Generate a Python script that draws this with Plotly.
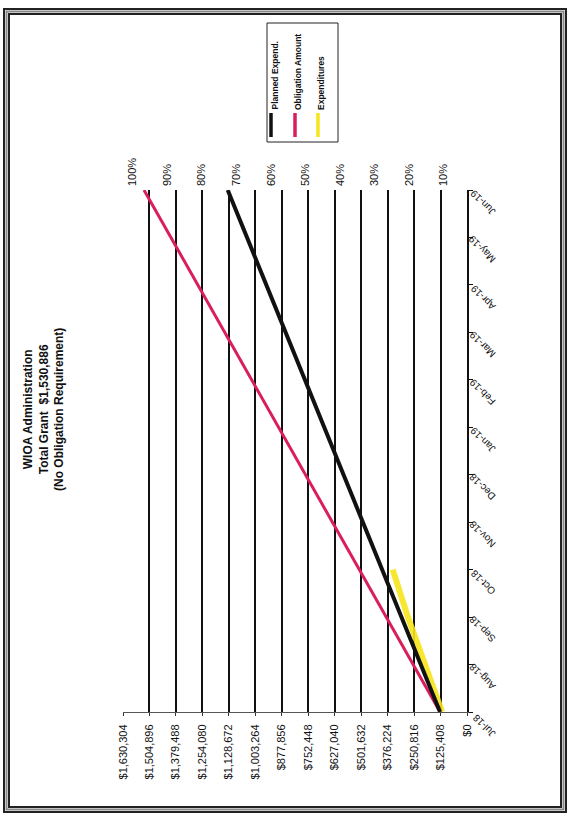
import plotly.graph_objects as go

# ---- data -------------------------------------------------------------
months = ["Jul-18", "Aug-18", "Sep-18", "Oct-18", "Nov-18", "Dec-18",
          "Jan-19", "Feb-19", "Mar-19", "Apr-19", "May-19", "Jun-19"]

planned_expend = [127600, 219100, 310600, 402100, 493600, 585100,
                  676600, 768100, 859600, 951100, 1042600, 1134100]

obligation_amount = [127574, 255148, 382722, 510295, 637869, 765443,
                     893017, 1020591, 1148165, 1275738, 1403312, 1530886]

expenditures = [118000, 200000, 280000, 352000]

dollar_ticks = [0, 125408, 250816, 376224, 501632, 627040, 752448,
                877856, 1003264, 1128672, 1254080, 1379488, 1504896, 1630304]

pct_ticks = [10, 20, 30, 40, 50, 60, 70, 80, 90, 100]

series_names = ["Planned Expend.", "Obligation Amount", "Expenditures"]
series_colors = ["#111111", "#D81E5B", "#F7E51B"]

title_lines = ["WIOA Administration",
               "Total Grant\u00a0\u00a0$1,530,886",
               "(No Obligation Requirement)"]

# ---- geometry ---------------------------------------------------------
W, H = 571, 825
ML, MR, MT, MB = 123, 104, 190, 113
PW, PH = W - ML - MR, H - MT - MB


def px(x):
    return (x - ML) / PW


def py(y):
    return (H - MB - y) / PH


FONT = "Liberation Sans, Arial, sans-serif"

fig = go.Figure()

# Expenditures drawn first so the planned line sits on top of it
fig.add_trace(go.Scatter(
    x=expenditures, y=months[:len(expenditures)], mode="lines",
    line=dict(color=series_colors[2], width=6), name=series_names[2],
    opacity=0.9))
fig.add_trace(go.Scatter(
    x=obligation_amount, y=months, mode="lines",
    line=dict(color=series_colors[1], width=3), name=series_names[1]))
fig.add_trace(go.Scatter(
    x=planned_expend, y=months, mode="lines",
    line=dict(color=series_colors[0], width=4), name=series_names[0]))

# carrier trace for the percentage scale along the top
fig.add_trace(go.Scatter(
    x=pct_ticks, y=[months[0]] * len(pct_ticks), xaxis="x2", mode="markers",
    marker=dict(opacity=0), hoverinfo="skip", showlegend=False))

fig.update_layout(
    width=W, height=H,
    margin=dict(l=ML, r=MR, t=MT, b=MB),
    paper_bgcolor="white", plot_bgcolor="white",
    showlegend=False,
    font=dict(family=FONT, color="#111111"),
    xaxis=dict(
        range=[dollar_ticks[-1], 0],
        tickvals=dollar_ticks,
        ticktext=[f"${v:,}" for v in dollar_ticks],
        tickangle=-90,
        tickfont=dict(size=11, color="#111111"),
        showgrid=True, gridcolor="#111111", gridwidth=1.5,
        zeroline=False,
        showline=True, linecolor="#555555", linewidth=1,
        ticks="outside", ticklen=3, tickcolor="#333333",
        ticklabelstandoff=4,
    ),
    xaxis2=dict(
        overlaying="x", side="top",
        range=[102.8, 3.3],
        tickvals=pct_ticks,
        ticktext=[f"{p}%" for p in pct_ticks],
        tickangle=-90,
        tickfont=dict(size=11, color="#111111"),
        showgrid=False, zeroline=False, showline=False,
        ticks="", ticklabelstandoff=3,
    ),
    yaxis=dict(
        type="category",
        categoryorder="array", categoryarray=months,
        range=[0, len(months) - 1],
        side="right",
        tickangle=-135,
        tickfont=dict(size=10, color="#111111"),
        showgrid=False, zeroline=False,
        showline=True, linecolor="#111111", linewidth=1.5,
        ticks="outside", ticklen=4, tickcolor="#111111",
        ticklabelstandoff=18, ticklabelshift=26,
    ),
)

shapes = []

# page frame
for inset, color in [(0, "#222222"), (2.5, "#8a8a8a"), (5, "#222222")]:
    shapes.append(dict(type="rect", xref="paper", yref="paper",
                       x0=px(4 + inset), x1=px(566 - inset),
                       y0=py(9 + inset), y1=py(812 - inset),
                       line=dict(color=color, width=2)))

# legend box
shapes.append(dict(type="rect", xref="paper", yref="paper",
                   x0=px(267), x1=px(338), y0=py(23), y1=py(142),
                   line=dict(color="#222222", width=1), fillcolor="white"))

annotations = []
legend_x = [271, 295, 318]
for name, color, lx in zip(series_names, series_colors, legend_x):
    shapes.append(dict(type="line", xref="paper", yref="paper",
                       x0=px(lx), x1=px(lx), y0=py(113), y1=py(137),
                       line=dict(color=color, width=3.5)))
    annotations.append(dict(
        text=name, textangle=-90, showarrow=False,
        xref="paper", yref="paper", x=px(lx + 3), y=py(112),
        xanchor="center", yanchor="bottom",
        font=dict(size=8.5, family=FONT, color="#111111", weight="bold")))

annotations.append(dict(
    text="<br>".join(title_lines), textangle=-90, showarrow=False,
    xref="paper", yref="paper", x=px(43), y=py(410),
    xanchor="center", yanchor="middle", align="center",
    font=dict(size=12, family=FONT, color="#111111", weight="bold")))

fig.update_layout(shapes=shapes, annotations=annotations)

fig.write_html("out.html")
